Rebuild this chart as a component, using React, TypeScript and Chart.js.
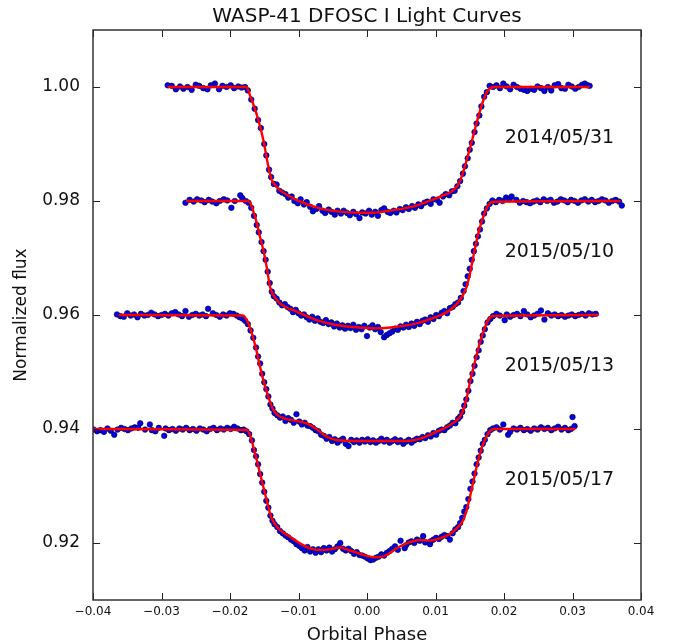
import React, { useEffect, useRef } from "react";
import { Chart, registerables } from "chart.js";

Chart.register(...registerables);

type P = [number, number];

const TITLE = "WASP-41 DFOSC I Light Curves";
const X_LABEL = "Orbital Phase";
const Y_LABEL = "Normalized flux";
const X_TICKS = [-0.04, -0.03, -0.02, -0.01, 0.0, 0.01, 0.02, 0.03, 0.04];
const Y_TICKS = [0.92, 0.94, 0.96, 0.98, 1.0];
const X_RANGE = [-0.04, 0.04];
const Y_RANGE = [0.91, 1.01];

const NIGHTS = ["2014/05/31", "2015/05/10", "2015/05/13", "2015/05/17"];
const LABEL_POS: P[] = [[0.0201, 0.991], [0.0201, 0.971], [0.0201, 0.951], [0.0201, 0.931]];

const MODEL_1: P[] = [
  [-0.0291, 1.0], [-0.0176, 1.0], [-0.0171, 0.9986], [-0.016, 0.99479], [-0.01513, 0.9907], [-0.0144, 0.98602],
  [-0.0139, 0.98368], [-0.01343, 0.98281], [-0.0127, 0.9819], [-0.0103, 0.9802], [-0.00686, 0.97872], [-0.0039, 0.97813],
  [-0.001, 0.97795], [0.0009, 0.97795], [0.0029, 0.97825], [0.0067, 0.979], [0.0092, 0.98006], [0.01066, 0.98076],
  [0.0131, 0.9825], [0.01382, 0.98427], [0.01455, 0.9872], [0.01528, 0.9904], [0.016, 0.99368], [0.017, 0.99772],
  [0.0177, 0.99947], [0.0185, 1.0], [0.0325, 1.0],
];
const MODEL_2: P[] = [
  [-0.0264, 0.98], [-0.01733, 0.98], [-0.01635, 0.97725], [-0.01562, 0.97374], [-0.01514, 0.9714], [-0.01465, 0.96848],
  [-0.01416, 0.96497], [-0.01368, 0.96351], [-0.0127, 0.96205], [-0.01027, 0.96058], [-0.00735, 0.95912], [-0.00443, 0.95825],
  [-0.0015, 0.95784], [0.00141, 0.95766], [0.00433, 0.95795], [0.00725, 0.95854], [0.01017, 0.95971], [0.01212, 0.96088],
  [0.01358, 0.96263], [0.01455, 0.96497], [0.01504, 0.96731], [0.01552, 0.97023], [0.01625, 0.97433], [0.01698, 0.97725],
  [0.01771, 0.9793], [0.01844, 0.97988], [0.037, 0.98],
];
const MODEL_3: P[] = [
  [-0.0362, 0.96], [-0.0181, 0.9599], [-0.01733, 0.95854], [-0.0166, 0.95591], [-0.0161, 0.95357], [-0.01562, 0.95094],
  [-0.01514, 0.9486], [-0.01465, 0.94655], [-0.01416, 0.9448], [-0.01368, 0.94333], [-0.01294, 0.94234], [-0.01172, 0.94175],
  [-0.01027, 0.9414], [-0.0088, 0.94099], [-0.00735, 0.94], [-0.00589, 0.93865], [-0.00443, 0.93807], [-0.0015, 0.93789],
  [0.00141, 0.93789], [0.00433, 0.93789], [0.00628, 0.93795], [0.00822, 0.93848], [0.01017, 0.93953], [0.01212, 0.9407],
  [0.01358, 0.94216], [0.01406, 0.94333], [0.01455, 0.94538], [0.01504, 0.9483], [0.01552, 0.95064], [0.01625, 0.95415],
  [0.01698, 0.95708], [0.01771, 0.95912], [0.01844, 0.95982], [0.0338, 0.96],
];
const MODEL_4: P[] = [
  [-0.04, 0.94], [-0.01757, 0.93982], [-0.01708, 0.93895], [-0.0166, 0.9369], [-0.0161, 0.93456], [-0.01562, 0.93222],
  [-0.01514, 0.92988], [-0.01465, 0.92754], [-0.01416, 0.9252], [-0.01368, 0.92374], [-0.0127, 0.92228], [-0.01124, 0.92111],
  [-0.00978, 0.91994], [-0.00832, 0.91907], [-0.00686, 0.91877], [-0.0054, 0.91889], [-0.00394, 0.91924], [-0.00297, 0.91889],
  [-0.0015, 0.9183], [0.00044, 0.9176], [0.00141, 0.91749], [0.00287, 0.91789], [0.00433, 0.91907], [0.0058, 0.91994],
  [0.00774, 0.92053], [0.0092, 0.92041], [0.01066, 0.92082], [0.01212, 0.92158], [0.01309, 0.92257], [0.01406, 0.92404],
  [0.01455, 0.92579], [0.01504, 0.92813], [0.01552, 0.93076], [0.01625, 0.93456], [0.01698, 0.93749], [0.01771, 0.93924],
  [0.01844, 0.94], [0.0304, 0.94],
];

const DATA_1: P[] = [
  [-0.0291, 1.0003], [-0.0285, 1.0002], [-0.0279, 0.9996], [-0.0273, 1.0001], [-0.0268, 0.9997], [-0.0262, 1.0], [-0.0256, 0.9995],
  [-0.025, 1.0004], [-0.0245, 1.0002], [-0.0239, 0.9998], [-0.0233, 0.9996], [-0.0228, 1.0003], [-0.0222, 1.0006], [-0.0216, 0.9996],
  [-0.0211, 1.0002], [-0.0205, 1.0], [-0.0199, 1.0003], [-0.0194, 0.9998], [-0.0188, 1.0001], [-0.0183, 0.9999], [-0.0178, 1.0],
  [-0.0174, 0.9994], [-0.0169, 0.9978], [-0.0164, 0.9962], [-0.0159, 0.9942], [-0.0155, 0.9928], [-0.015, 0.99], [-0.0147, 0.988],
  [-0.0143, 0.9855], [-0.014, 0.9842], [-0.0136, 0.983], [-0.0132, 0.9829], [-0.0128, 0.9818], [-0.0124, 0.9815], [-0.0119, 0.9812],
  [-0.0115, 0.9806], [-0.011, 0.9808], [-0.0106, 0.98], [-0.0101, 0.9796], [-0.0097, 0.9803], [-0.0092, 0.9794], [-0.0088, 0.9798],
  [-0.0083, 0.979], [-0.0079, 0.9782], [-0.0074, 0.9786], [-0.007, 0.9791], [-0.0065, 0.9783], [-0.0061, 0.9779], [-0.0056, 0.9785],
  [-0.0052, 0.9781], [-0.0047, 0.9776], [-0.0043, 0.9783], [-0.0038, 0.9778], [-0.0034, 0.9783], [-0.0029, 0.9779], [-0.0025, 0.9775],
  [-0.002, 0.9781], [-0.0016, 0.9777], [-0.0011, 0.977], [-0.0007, 0.978], [-0.0002, 0.9778], [0.0003, 0.9783], [0.0007, 0.9776],
  [0.0012, 0.9781], [0.0016, 0.9774], [0.0021, 0.9784], [0.0025, 0.9787], [0.003, 0.9781], [0.0034, 0.9779], [0.0039, 0.9783],
  [0.0043, 0.978], [0.0048, 0.9786], [0.0052, 0.9784], [0.0057, 0.9789], [0.0061, 0.9786], [0.0066, 0.9791], [0.007, 0.9788],
  [0.0075, 0.9794], [0.0079, 0.9791], [0.0084, 0.9797], [0.0088, 0.9799], [0.0093, 0.9795], [0.0097, 0.9803], [0.0102, 0.9802],
  [0.0106, 0.9797], [0.0111, 0.9808], [0.0115, 0.9812], [0.012, 0.981], [0.0124, 0.9817], [0.0128, 0.9818], [0.0132, 0.9826],
  [0.0136, 0.9835], [0.014, 0.9848], [0.0143, 0.9861], [0.0147, 0.9875], [0.015, 0.989], [0.0153, 0.9902], [0.0157, 0.9921],
  [0.016, 0.9936], [0.0164, 0.995], [0.0167, 0.9966], [0.0171, 0.9983], [0.0175, 0.9991], [0.0179, 1.0002], [0.0184, 1.0],
  [0.0189, 1.0003], [0.0194, 0.9998], [0.0199, 1.0006], [0.0204, 1.0001], [0.0209, 0.9996], [0.0214, 1.0004], [0.0219, 1.0],
  [0.0224, 0.9997], [0.0229, 0.9995], [0.0234, 0.9993], [0.0239, 0.9997], [0.0244, 0.9995], [0.0249, 1.0001], [0.0254, 0.9998],
  [0.0259, 0.9993], [0.0264, 1.0], [0.0269, 0.9994], [0.0274, 1.0003], [0.0279, 1.0005], [0.0284, 0.9998], [0.0289, 0.9997],
  [0.0294, 1.0004], [0.0299, 1.0001], [0.0304, 0.9997], [0.0309, 1.0], [0.0314, 1.0004], [0.0318, 1.0006], [0.0322, 1.0003],
  [0.0325, 1.0002],
];
const DATA_2: P[] = [
  [-0.0265, 0.9797], [-0.0259, 0.9802], [-0.0253, 0.9799], [-0.0248, 0.9803], [-0.0242, 0.9801], [-0.0237, 0.9798], [-0.0231, 0.9802],
  [-0.0226, 0.9799], [-0.022, 0.9796], [-0.0215, 0.98], [-0.0209, 0.9803], [-0.0204, 0.9801], [-0.0198, 0.9788], [-0.0193, 0.98],
  [-0.0185, 0.981], [-0.0182, 0.9805], [-0.0177, 0.98], [-0.0173, 0.9797], [-0.0169, 0.9788], [-0.0165, 0.9774], [-0.0161, 0.9758],
  [-0.0158, 0.9745], [-0.0154, 0.9728], [-0.0151, 0.9712], [-0.0148, 0.9697], [-0.0145, 0.9676], [-0.0142, 0.9656], [-0.0139, 0.9641],
  [-0.0136, 0.9633], [-0.0132, 0.9629], [-0.0128, 0.9622], [-0.0124, 0.9617], [-0.012, 0.9619], [-0.0116, 0.9614], [-0.0112, 0.9611],
  [-0.0108, 0.9605], [-0.0104, 0.9609], [-0.01, 0.9603], [-0.0096, 0.9599], [-0.0092, 0.9601], [-0.0088, 0.9596], [-0.0084, 0.9592],
  [-0.008, 0.9597], [-0.0076, 0.959], [-0.0072, 0.9594], [-0.0068, 0.9588], [-0.0064, 0.9586], [-0.006, 0.9591], [-0.0056, 0.9584],
  [-0.0052, 0.9587], [-0.0048, 0.958], [-0.0044, 0.9585], [-0.004, 0.9578], [-0.0036, 0.9582], [-0.0032, 0.9576], [-0.0028, 0.9581],
  [-0.0024, 0.9577], [-0.002, 0.9583], [-0.0016, 0.9574], [-0.0012, 0.9579], [-0.0008, 0.9575], [-0.0004, 0.9581], [0.0, 0.9563],
  [0.0004, 0.9578], [0.0008, 0.9582], [0.0012, 0.9575], [0.0016, 0.9579], [0.002, 0.957], [0.0025, 0.9561], [0.0029, 0.9565],
  [0.0033, 0.9568], [0.0037, 0.9571], [0.0041, 0.9576], [0.0045, 0.9574], [0.0049, 0.958], [0.0053, 0.9578], [0.0057, 0.9583],
  [0.0061, 0.9579], [0.0065, 0.9585], [0.0069, 0.9581], [0.0073, 0.9588], [0.0077, 0.9584], [0.0081, 0.959], [0.0085, 0.9592],
  [0.0089, 0.9588], [0.0093, 0.9596], [0.0097, 0.9593], [0.0101, 0.96], [0.0105, 0.9598], [0.0109, 0.9604], [0.0113, 0.9607],
  [0.0117, 0.9603], [0.0121, 0.9612], [0.0125, 0.9614], [0.0129, 0.9619], [0.0133, 0.9622], [0.0137, 0.963], [0.0141, 0.9642],
  [0.0144, 0.9654], [0.0147, 0.9668], [0.015, 0.9681], [0.0153, 0.9697], [0.0156, 0.9712], [0.0159, 0.9725], [0.0162, 0.9738],
  [0.0165, 0.975], [0.0168, 0.9764], [0.0171, 0.9778], [0.0175, 0.9787], [0.0179, 0.9795], [0.0183, 0.9801], [0.0188, 0.9798],
  [0.0193, 0.9802], [0.0198, 0.98], [0.0203, 0.9806], [0.0208, 0.9803], [0.0211, 0.9808], [0.0218, 0.9802], [0.0223, 0.9797],
  [0.0228, 0.98], [0.0233, 0.9798], [0.0238, 0.9796], [0.0243, 0.9799], [0.0248, 0.9801], [0.0253, 0.9798], [0.0258, 0.9803],
  [0.0263, 0.98], [0.0268, 0.9802], [0.0273, 0.9797], [0.0278, 0.9799], [0.0283, 0.9803], [0.0288, 0.9801], [0.0293, 0.9798],
  [0.0298, 0.9802], [0.0303, 0.98], [0.0308, 0.9797], [0.0313, 0.9801], [0.0318, 0.9803], [0.0323, 0.9799], [0.0328, 0.9802],
  [0.0333, 0.9798], [0.0338, 0.98], [0.0343, 0.9803], [0.0348, 0.9801], [0.0353, 0.9797], [0.0358, 0.98], [0.0363, 0.9802],
  [0.0368, 0.9799], [0.0372, 0.9792],
];
const DATA_3: P[] = [
  [-0.0365, 0.9601], [-0.036, 0.9598], [-0.0355, 0.9597], [-0.035, 0.9603], [-0.0345, 0.9599], [-0.034, 0.9601], [-0.0335, 0.9596],
  [-0.033, 0.9602], [-0.0325, 0.9599], [-0.032, 0.96], [-0.0315, 0.9604], [-0.031, 0.9601], [-0.0305, 0.9598], [-0.03, 0.96],
  [-0.0295, 0.9602], [-0.029, 0.9599], [-0.0285, 0.9603], [-0.028, 0.9605], [-0.0275, 0.9601], [-0.027, 0.9598], [-0.0265, 0.9607],
  [-0.026, 0.9597], [-0.0255, 0.96], [-0.025, 0.9602], [-0.0245, 0.9599], [-0.024, 0.9601], [-0.0235, 0.9598], [-0.0232, 0.9611],
  [-0.0225, 0.9603], [-0.022, 0.96], [-0.0215, 0.9597], [-0.021, 0.9601], [-0.0205, 0.9599], [-0.02, 0.9603], [-0.0195, 0.9602],
  [-0.019, 0.9599], [-0.0186, 0.9596], [-0.0182, 0.9594], [-0.0178, 0.959], [-0.0174, 0.9584], [-0.017, 0.9573], [-0.0166, 0.956],
  [-0.0162, 0.9543], [-0.0159, 0.9527], [-0.0156, 0.9515], [-0.0153, 0.9497], [-0.015, 0.9482], [-0.0147, 0.947], [-0.0144, 0.9457],
  [-0.0141, 0.9443], [-0.0138, 0.9436], [-0.0135, 0.9428], [-0.0131, 0.9424], [-0.0127, 0.942], [-0.0123, 0.9422], [-0.0119, 0.9414],
  [-0.0115, 0.9419], [-0.0111, 0.9416], [-0.0107, 0.9411], [-0.0103, 0.9426], [-0.0099, 0.9413], [-0.0095, 0.9408], [-0.0091, 0.9411],
  [-0.0087, 0.9406], [-0.0083, 0.9405], [-0.0079, 0.9402], [-0.0075, 0.9398], [-0.0071, 0.9396], [-0.0067, 0.939], [-0.0063, 0.9388],
  [-0.0059, 0.9383], [-0.0055, 0.9386], [-0.0051, 0.9379], [-0.0047, 0.9382], [-0.0043, 0.9376], [-0.0039, 0.938], [-0.0035, 0.9383],
  [-0.0031, 0.9374], [-0.0027, 0.937], [-0.0023, 0.9381], [-0.0019, 0.9377], [-0.0015, 0.938], [-0.0011, 0.9376], [-0.0007, 0.9381],
  [-0.0003, 0.9378], [0.0001, 0.9382], [0.0005, 0.9377], [0.0009, 0.938], [0.0013, 0.9376], [0.0017, 0.9379], [0.0021, 0.9383],
  [0.0025, 0.9378], [0.0029, 0.9381], [0.0033, 0.9376], [0.0037, 0.9379], [0.0041, 0.9382], [0.0045, 0.9377], [0.0049, 0.938],
  [0.0053, 0.9374], [0.0057, 0.9378], [0.0061, 0.9381], [0.0065, 0.9376], [0.0069, 0.938], [0.0073, 0.9383], [0.0077, 0.9382],
  [0.0081, 0.9386], [0.0085, 0.9384], [0.0089, 0.9389], [0.0093, 0.9387], [0.0097, 0.9393], [0.0101, 0.939], [0.0105, 0.9397],
  [0.0109, 0.9399], [0.0113, 0.9398], [0.0117, 0.9403], [0.0121, 0.9406], [0.0125, 0.9411], [0.0129, 0.941], [0.0133, 0.9418],
  [0.0136, 0.9422], [0.0139, 0.943], [0.0142, 0.9441], [0.0145, 0.9452], [0.0148, 0.9467], [0.0151, 0.9484], [0.0154, 0.9497],
  [0.0157, 0.9511], [0.016, 0.9526], [0.0163, 0.9538], [0.0166, 0.9553], [0.0169, 0.9564], [0.0172, 0.9575], [0.0176, 0.9587],
  [0.018, 0.9593], [0.0184, 0.9598], [0.0189, 0.9602], [0.0194, 0.9599], [0.0201, 0.9591], [0.0204, 0.9601], [0.0209, 0.9597],
  [0.0214, 0.96], [0.0219, 0.9602], [0.0224, 0.9598], [0.0229, 0.9607], [0.0234, 0.9601], [0.0239, 0.9596], [0.0244, 0.9599],
  [0.0249, 0.9602], [0.0254, 0.9608], [0.0259, 0.9592], [0.0264, 0.9603], [0.0269, 0.9599], [0.0274, 0.9601], [0.0279, 0.9598],
  [0.0284, 0.96], [0.0289, 0.9597], [0.0294, 0.9599], [0.0299, 0.9601], [0.0304, 0.9598], [0.0309, 0.96], [0.0314, 0.9602],
  [0.0319, 0.9599], [0.0324, 0.9603], [0.0329, 0.9601], [0.0334, 0.9602],
];
const DATA_4: P[] = [
  [-0.0399, 0.9399], [-0.0394, 0.9396], [-0.0389, 0.9398], [-0.0384, 0.9395], [-0.0379, 0.9401], [-0.0374, 0.9397], [-0.0369, 0.939],
  [-0.0364, 0.9399], [-0.0359, 0.9402], [-0.0354, 0.94], [-0.0349, 0.9398], [-0.0344, 0.9401], [-0.0339, 0.9403], [-0.0334, 0.9402],
  [-0.0331, 0.941], [-0.0324, 0.9399], [-0.0317, 0.9408], [-0.0314, 0.9398], [-0.0309, 0.9396], [-0.0304, 0.9402], [-0.0296, 0.9388],
  [-0.0294, 0.9401], [-0.0289, 0.9398], [-0.0284, 0.94], [-0.0279, 0.9397], [-0.0274, 0.9401], [-0.0269, 0.9399], [-0.0264, 0.9402],
  [-0.0259, 0.9398], [-0.0254, 0.94], [-0.0249, 0.9397], [-0.0244, 0.9401], [-0.0239, 0.9399], [-0.0234, 0.9396], [-0.0229, 0.94],
  [-0.0224, 0.9402], [-0.0219, 0.9398], [-0.0214, 0.9401], [-0.0209, 0.9399], [-0.0204, 0.9402], [-0.0199, 0.94], [-0.0194, 0.9404],
  [-0.0189, 0.9401], [-0.0184, 0.9398], [-0.018, 0.9399], [-0.0176, 0.9396], [-0.0172, 0.9391], [-0.0168, 0.938], [-0.0165, 0.9363],
  [-0.0162, 0.9352], [-0.0159, 0.9338], [-0.0156, 0.9321], [-0.0153, 0.9306], [-0.015, 0.929], [-0.0147, 0.9274], [-0.0144, 0.9262],
  [-0.0141, 0.9248], [-0.0138, 0.9239], [-0.0135, 0.9233], [-0.0131, 0.9228], [-0.0127, 0.9221], [-0.0123, 0.9217], [-0.0119, 0.9213],
  [-0.0115, 0.921], [-0.0111, 0.9206], [-0.0107, 0.9203], [-0.0103, 0.9198], [-0.0099, 0.9195], [-0.0095, 0.9191], [-0.0091, 0.9187],
  [-0.0087, 0.9193], [-0.0083, 0.9185], [-0.0079, 0.9189], [-0.0075, 0.9183], [-0.0071, 0.9189], [-0.0067, 0.9184], [-0.0063, 0.9191],
  [-0.0059, 0.9187], [-0.0055, 0.9192], [-0.0051, 0.9185], [-0.0047, 0.9189], [-0.0043, 0.9194], [-0.0039, 0.92], [-0.0035, 0.919],
  [-0.0031, 0.9187], [-0.0027, 0.919], [-0.0023, 0.9186], [-0.0019, 0.9181], [-0.0015, 0.9184], [-0.0011, 0.9179], [-0.0007, 0.9178],
  [-0.0003, 0.9176], [0.0001, 0.9173], [0.0005, 0.917], [0.0009, 0.9171], [0.0013, 0.9174], [0.0017, 0.9176], [0.0021, 0.918],
  [0.0025, 0.9178], [0.0029, 0.9183], [0.0033, 0.9186], [0.0037, 0.919], [0.0041, 0.9194], [0.0045, 0.9188], [0.0049, 0.9204],
  [0.0055, 0.9191], [0.0057, 0.9196], [0.0061, 0.9201], [0.0065, 0.9203], [0.0069, 0.92], [0.0073, 0.9206], [0.0077, 0.9204],
  [0.0082, 0.9212], [0.0085, 0.9201], [0.0092, 0.9198], [0.0093, 0.9203], [0.0097, 0.9206], [0.0101, 0.9209], [0.0105, 0.9207],
  [0.0109, 0.9211], [0.0113, 0.9214], [0.0117, 0.9212], [0.0121, 0.9206], [0.0125, 0.9217], [0.0129, 0.9224], [0.0133, 0.9228],
  [0.0136, 0.9235], [0.0139, 0.9244], [0.0142, 0.9255], [0.0145, 0.9263], [0.0148, 0.9277], [0.0151, 0.9295], [0.0154, 0.9308],
  [0.0157, 0.9322], [0.016, 0.9338], [0.0163, 0.935], [0.0166, 0.9362], [0.0169, 0.9374], [0.0172, 0.9381], [0.0176, 0.9391],
  [0.018, 0.9398], [0.0184, 0.9401], [0.0189, 0.9403], [0.0194, 0.9399], [0.0199, 0.9408], [0.0206, 0.939], [0.0209, 0.9395],
  [0.0214, 0.9401], [0.0219, 0.9399], [0.0224, 0.9402], [0.0229, 0.9398], [0.0234, 0.94], [0.0239, 0.9397], [0.0244, 0.9401],
  [0.0249, 0.9399], [0.0254, 0.9403], [0.0259, 0.94], [0.0264, 0.9402], [0.0269, 0.9398], [0.0274, 0.9401], [0.0279, 0.9404],
  [0.0284, 0.9399], [0.0289, 0.9402], [0.0294, 0.9398], [0.0298, 0.94], [0.03, 0.9421], [0.0303, 0.9405],
];

const MODELS = [MODEL_1, MODEL_2, MODEL_3, MODEL_4];
const DATAS = [DATA_1, DATA_2, DATA_3, DATA_4];

const FONT = "'DejaVu Sans', 'Bitstream Vera Sans', sans-serif";

const frameAndText = {
  id: "frameAndText",
  afterDatasetsDraw(chart: any) {
    const { ctx, chartArea: a, scales } = chart;
    const xs = scales.x;
    const ys = scales.y;
    ctx.save();
    ctx.strokeStyle = "#222";
    ctx.lineWidth = 1;
    const tl = 7;
    ctx.beginPath();
    X_TICKS.forEach((v) => {
      const px = Math.round(xs.getPixelForValue(v)) + 0.5;
      ctx.moveTo(px, a.bottom);
      ctx.lineTo(px, a.bottom - tl);
      ctx.moveTo(px, a.top);
      ctx.lineTo(px, a.top + tl);
    });
    Y_TICKS.forEach((v) => {
      const py = Math.round(ys.getPixelForValue(v)) + 0.5;
      ctx.moveTo(a.left, py);
      ctx.lineTo(a.left + tl, py);
      ctx.moveTo(a.right, py);
      ctx.lineTo(a.right - tl, py);
    });
    ctx.stroke();
    ctx.strokeStyle = "#333";
    ctx.lineWidth = 1.5;
    ctx.strokeRect(a.left, a.top, a.right - a.left, a.bottom - a.top);
    ctx.fillStyle = "#111";
    ctx.font = `19px ${FONT}`;
    ctx.textAlign = "left";
    ctx.textBaseline = "middle";
    NIGHTS.forEach((t, i) => {
      const [lx, ly] = LABEL_POS[i];
      ctx.fillText(t, xs.getPixelForValue(lx), ys.getPixelForValue(ly));
    });
    ctx.restore();
  },
};

function fmtX(v: number) {
  if (Math.abs(v) < 1e-9) return "0.00";
  return v < 0 ? "\u2212" + Math.abs(v).toFixed(2) : v.toFixed(2);
}

export default function App() {
  const ref = useRef<HTMLCanvasElement | null>(null);
  useEffect(() => {
    if (!ref.current) return;
    const datasets: any[] = [];
    MODELS.forEach((m, i) => {
      datasets.push({
        label: "model " + NIGHTS[i],
        data: m.map(([x, y]) => ({ x, y })),
        showLine: true,
        borderColor: "#ff0000",
        borderWidth: 2.4,
        pointRadius: 0,
        cubicInterpolationMode: "monotone",
        fill: false,
        order: 0,
      });
    });
    DATAS.forEach((d, i) => {
      datasets.push({
        label: NIGHTS[i],
        data: d.map(([x, y]) => ({ x, y })),
        showLine: false,
        pointRadius: 2.8,
        pointBackgroundColor: "#0000ee",
        pointBorderColor: "#000033",
        pointBorderWidth: 0.6,
        order: 1,
      });
    });
    const chart = new Chart(ref.current, {
      type: "scatter",
      data: { datasets },
      plugins: [frameAndText],
      options: {
        responsive: false,
        animation: false,
        layout: { padding: { left: 0, right: 35, top: 0, bottom: 0 } },
        plugins: {
          legend: { display: false },
          tooltip: { enabled: false },
          title: {
            display: true,
            text: TITLE,
            fullSize: false,
            color: "#111",
            font: { family: FONT, size: 20, weight: "normal", lineHeight: 1.2 },
            padding: { top: 5, bottom: 1 },
          },
        },
        scales: {
          x: {
            type: "linear",
            min: X_RANGE[0],
            max: X_RANGE[1],
            afterBuildTicks: (s: any) => {
              s.ticks = X_TICKS.map((value) => ({ value }));
            },
            afterFit: (s: any) => {
              s.height = 44;
            },
            grid: { display: false, drawTicks: false },
            border: { display: false },
            ticks: {
              color: "#111",
              font: { family: FONT, size: 12 },
              padding: 5,
              maxRotation: 0,
              autoSkip: false,
              callback: (v: any) => fmtX(Number(v)),
            },
            title: {
              display: true,
              text: X_LABEL,
              color: "#111",
              font: { family: FONT, size: 18, lineHeight: 1 },
              padding: { top: 0, bottom: 0 },
            },
          },
          y: {
            type: "linear",
            min: Y_RANGE[0],
            max: Y_RANGE[1],
            afterBuildTicks: (s: any) => {
              s.ticks = Y_TICKS.map((value) => ({ value }));
            },
            afterFit: (s: any) => {
              s.width = 93;
            },
            grid: { display: false, drawTicks: false },
            border: { display: false },
            ticks: {
              color: "#111",
              font: { family: FONT, size: 17 },
              padding: 13,
              autoSkip: false,
              callback: (v: any) => Number(v).toFixed(2),
            },
            title: {
              display: true,
              text: Y_LABEL,
              color: "#111",
              font: { family: FONT, size: 17, lineHeight: 1 },
              padding: { top: 13.5, bottom: 0 },
            },
          },
        },
      },
    });
    return () => chart.destroy();
  }, []);
  return (
    <div style={{ position: "absolute", left: 0, top: 0, width: 676, height: 644, background: "#fff" }}>
      <canvas ref={ref} width={676} height={644} style={{ display: "block", width: 676, height: 644 }} />
    </div>
  );
}
